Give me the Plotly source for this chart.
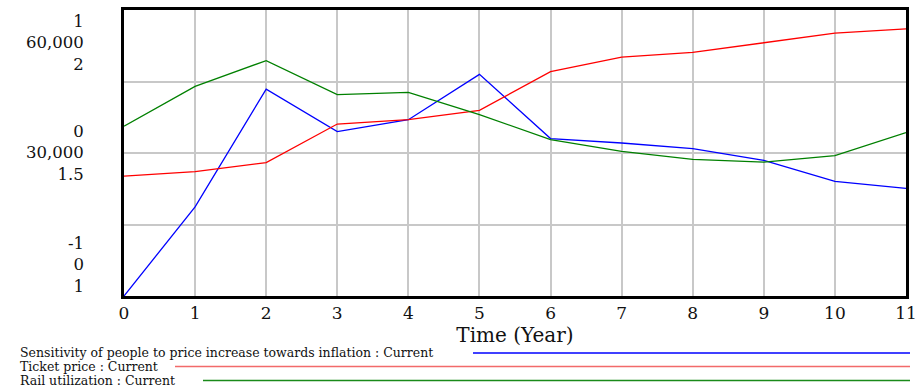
import plotly.graph_objects as go

# ---- data ----
time = list(range(12))
sensitivity = [-1.0, -0.377, 0.447, 0.150, 0.233, 0.550, 0.101, 0.070, 0.031, -0.051, -0.199, -0.248]
ticket_price = [25130, 26110, 28000, 36080, 37000, 38950, 47060, 50130, 51100, 53060, 55150, 56060]
rail_utilization = [1.594, 1.733, 1.823, 1.704, 1.712, 1.634, 1.547, 1.506, 1.478, 1.468, 1.491, 1.571]

series_names = [
    "Sensitivity of people to price increase towards inflation : Current",
    "Ticket price : Current",
    "Rail utilization : Current",
]
series_colors = ["#0000ff", "#ff0000", "#008000"]
legend_colors = ["#0000ff", "#f26a6a", "#1a8a1a"]

sens_ticks = ["-1", "0", "1"]
price_ticks = ["0", "30,000", "60,000"]
util_ticks = ["1", "1.5", "2"]
sens_range = [-1, 1]
price_range = [0, 60000]
util_range = [1, 2]
x_title = "Time (Year)"

# ---- layout geometry ----
W, H = 920, 387
L, R, T, B = 124, 14, 10, 91
PW = W - L - R
PH = H - T - B


def px_x(px):
    return (px - L) / PW


def px_y(py):
    return (H - B - py) / PH


FONT = "DejaVu Serif, Liberation Serif, serif"
TXT = "#111111"

fig = go.Figure()
fig.add_trace(go.Scatter(x=time, y=ticket_price, mode="lines", yaxis="y2",
                         line=dict(color=series_colors[1], width=1.3), name=series_names[1]))
fig.add_trace(go.Scatter(x=time, y=rail_utilization, mode="lines", yaxis="y3",
                         line=dict(color=series_colors[2], width=1.3), name=series_names[2]))
fig.add_trace(go.Scatter(x=time, y=sensitivity, mode="lines", yaxis="y",
                         line=dict(color=series_colors[0], width=1.3), name=series_names[0]))

annotations = []
# stacked y labels: bottom, middle, top groups
groups = list(zip(sens_ticks, price_ticks, util_ticks))
anchors = [("bottom", 0, -2), ("middle", 0.5, 0), ("top", 1, 0)]
for (a, b, c), (ya, yv, ys) in zip(groups, anchors):
    annotations.append(dict(
        text="<br>".join([a, b, c]), xref="paper", yref="paper", x=0, y=yv,
        xanchor="right", yanchor=ya, xshift=-38, yshift=ys, showarrow=False,
        align="right", font=dict(family=FONT, size=16.5, color=TXT)))

# legend rows
legend_text_y = [352, 366, 380]
legend_line_y = [353, 366.5, 380.5]
legend_line_start = [473, 175, 203]
shapes = []
for name, col, ty, ly, x0 in zip(series_names, legend_colors, legend_text_y, legend_line_y, legend_line_start):
    shapes.append(dict(type="line", xref="paper", yref="paper",
                       x0=px_x(x0), x1=px_x(910), y0=px_y(ly), y1=px_y(ly),
                       line=dict(color=col, width=1.6)))
    annotations.append(dict(
        text=name, xref="paper", yref="paper", x=px_x(18), y=px_y(ty),
        xanchor="left", yanchor="middle", showarrow=False,
        font=dict(family=FONT, size=12.5, color=TXT)))

fig.update_layout(
    width=W, height=H, autosize=False,
    margin=dict(l=L, r=R, t=T, b=B, autoexpand=False),
    paper_bgcolor="white", plot_bgcolor="white",
    showlegend=False,
    xaxis=dict(range=[0, 11], tickvals=time, ticktext=[str(t) for t in time],
               automargin=False,
               showgrid=True, gridcolor="#c8c8c8", gridwidth=1.5,
               showline=True, linecolor="black", linewidth=3, mirror=True,
               ticks="", ticklen=0, tickfont=dict(family=FONT, size=17, color=TXT),
               title=dict(text=x_title, font=dict(family=FONT, size=20, color=TXT), standoff=0),
               zeroline=False),
    yaxis=dict(range=sens_range, dtick=0.5, showgrid=True, gridcolor="#c8c8c8", gridwidth=1.5,
               automargin=False,
               showticklabels=False, ticks="", zeroline=False,
               showline=True, linecolor="black", linewidth=3, mirror=True),
    yaxis2=dict(range=price_range, overlaying="y", showgrid=False, showticklabels=False,
                zeroline=False, visible=False),
    yaxis3=dict(range=util_range, overlaying="y", showgrid=False, showticklabels=False,
                zeroline=False, visible=False),
    annotations=annotations,
    shapes=shapes,
)

fig.write_html(
    "out.html",
    config={"displayModeBar": False, "responsive": False},
    post_script=("document.body.style.margin='0';document.body.style.padding='0';"
                 "document.documentElement.style.overflow='hidden';"
                 "document.body.style.overflow='hidden';"),
)
